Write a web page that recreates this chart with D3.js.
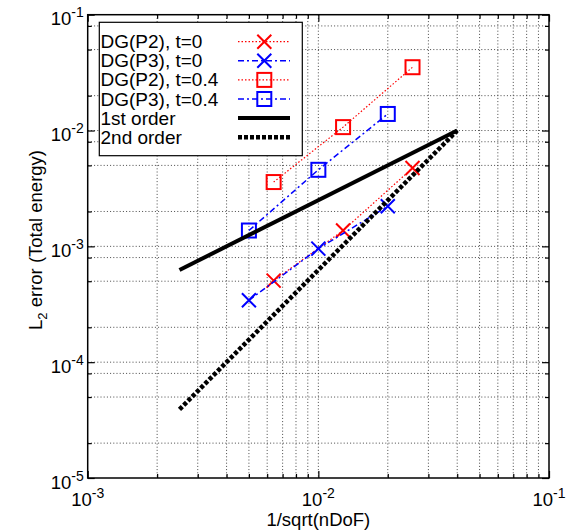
<!DOCTYPE html>
<html><head><meta charset="utf-8">
<script src="https://cdn.jsdelivr.net/npm/d3@7"></script>
<style>html,body{margin:0;padding:0;background:#fff;}svg{display:block;font-family:"Liberation Sans",Arial,Helvetica,sans-serif;}</style>
</head><body>
<svg id="chart" width="572" height="531"></svg>
<script>
// ---- data ----
const xMajor = [1e-3, 1e-2, 1e-1];
const xMajorExp = ["-3", "-2", "-1"];
const yMajor = [1e-5, 1e-4, 1e-3, 1e-2, 1e-1];
const yMajorExp = ["-5", "-4", "-3", "-2", "-1"];
const xMinorMult = [2, 3, 4, 5, 6, 7, 8, 9];
const yMinorMult = [2, 5, 8];

const p2x = [0.0064, 0.0128, 0.0256];
const p3x = [0.005, 0.01, 0.02];
const p2t0 = [5.06e-4, 1.37e-3, 4.74e-3];
const p3t0 = [3.42e-4, 9.55e-4, 2.22e-3];
const p2t04 = [3.59e-3, 1.07e-2, 3.52e-2];
const p3t04 = [1.37e-3, 4.58e-3, 1.39e-2];
const orderX = [0.0025, 0.04];
const order1 = [6.25e-4, 1e-2];
const order2 = [3.91e-5, 1e-2];

const legendLabels = ["DG(P2), t=0", "DG(P3), t=0", "DG(P2), t=0.4", "DG(P3), t=0.4", "1st order", "2nd order"];
const xTitle = "1/sqrt(nDoF)";

// ---- layout ----
const L = 87.7, R = 549, T = 14.7, B = 478;
const svg = d3.select("#chart");
const x = d3.scaleLog().domain([1e-3, 1e-1]).range([L, R]);
const y = d3.scaleLog().domain([1e-5, 1e-1]).range([B, T]);

function minors(major, mult) {
  const out = [];
  major.slice(0, -1).forEach(m => mult.forEach(k => out.push(m * k)));
  return out;
}
const xMinor = minors(xMajor, xMinorMult);
const yMinor = minors(yMajor, yMinorMult);

// grid
const grid = svg.append("g").attr("stroke", "#333").attr("stroke-width", 0.9).attr("stroke-dasharray", "1,2.2");
xMinor.concat(xMajor.slice(1, -1)).forEach(v => {
  grid.append("line").attr("x1", x(v)).attr("x2", x(v)).attr("y1", T).attr("y2", B);
});
yMinor.concat(yMajor.slice(1, -1)).forEach(v => {
  grid.append("line").attr("x1", L).attr("x2", R).attr("y1", y(v)).attr("y2", y(v));
});

// axes ticks (inward, mirrored)
function styleAxis(g) { g.select(".domain").remove(); g.selectAll("line").attr("stroke", "#000").attr("stroke-width", 1.2); g.selectAll("text").remove(); }
[[d3.axisBottom, B], [d3.axisTop, T]].forEach(([ax, pos]) => {
  svg.append("g").attr("transform", `translate(0,${pos})`).call(ax(x).tickValues(xMajor).tickSize(-7).tickFormat("")).call(styleAxis);
  svg.append("g").attr("transform", `translate(0,${pos})`).call(ax(x).tickValues(xMinor).tickSize(-4).tickFormat("")).call(styleAxis);
});
[[d3.axisLeft, L], [d3.axisRight, R]].forEach(([ax, pos]) => {
  svg.append("g").attr("transform", `translate(${pos},0)`).call(ax(y).tickValues(yMajor).tickSize(-7).tickFormat("")).call(styleAxis);
  svg.append("g").attr("transform", `translate(${pos},0)`).call(ax(y).tickValues(yMinor).tickSize(-4).tickFormat("")).call(styleAxis);
});

// tick labels
function sup(t, exp) {
  t.append("tspan").text("10");
  t.append("tspan").attr("dy", -8).attr("font-size", 14).text(exp);
}
xMajor.forEach((v, i) => {
  const t = svg.append("text").attr("x", x(v)).attr("y", B + 28).attr("text-anchor", "middle").attr("font-size", 18.5);
  sup(t, xMajorExp[i]);
});
yMajor.forEach((v, i) => {
  const t = svg.append("text").attr("x", L - 4).attr("y", y(v) + 10.5).attr("text-anchor", "end").attr("font-size", 18.5);
  sup(t, yMajorExp[i]);
});

// titles
svg.append("text").attr("x", (L + R) / 2).attr("y", 526).attr("text-anchor", "middle").attr("font-size", 18.5).text(xTitle);
const yt = svg.append("text").attr("transform", `translate(42,240) rotate(-90)`).attr("text-anchor", "middle").attr("font-size", 18.5);
yt.append("tspan").text("L");
yt.append("tspan").attr("font-size", 13).attr("dy", 5).text("2");
yt.append("tspan").attr("dy", -5).text(" error (Total energy)");

// series
const styles = [
  {xs: p2x, ys: p2t0, color: "#ff0000", dash: "1.5,2", w: 1.2, marker: "x"},
  {xs: p3x, ys: p3t0, color: "#0000ff", dash: "6,3,2,3", w: 1.5, marker: "x"},
  {xs: p2x, ys: p2t04, color: "#ff0000", dash: "1.5,2", w: 1.2, marker: "sq"},
  {xs: p3x, ys: p3t04, color: "#0000ff", dash: "6,3,2,3", w: 1.5, marker: "sq"},
  {xs: orderX, ys: order1, color: "#000", dash: null, w: 4, marker: null},
  {xs: orderX, ys: order2, color: "#000", dash: "4,2", w: 4.5, marker: null}
];
const line = d3.line();
function drawMarker(g, type, cx, cy, color) {
  if (type === "x") {
    g.append("path").attr("d", `M${cx - 7},${cy - 7}L${cx + 7},${cy + 7}M${cx - 7},${cy + 7}L${cx + 7},${cy - 7}`)
      .attr("stroke", color).attr("stroke-width", 2).attr("fill", "none");
  } else if (type === "sq") {
    g.append("rect").attr("x", cx - 7).attr("y", cy - 7).attr("width", 14).attr("height", 14)
      .attr("stroke", color).attr("stroke-width", 2).attr("fill", "none");
  }
}
const plot = svg.append("g");
styles.forEach(s => {
  const pts = s.xs.map((v, i) => [x(v), y(s.ys[i])]);
  plot.append("path").attr("d", line(pts)).attr("fill", "none").attr("stroke", s.color)
    .attr("stroke-width", s.w).attr("stroke-dasharray", s.dash);
  if (s.marker) pts.forEach(p => drawMarker(plot, s.marker, p[0], p[1], s.color));
});

// border
svg.append("rect").attr("x", L).attr("y", T).attr("width", R - L).attr("height", B - T)
  .attr("fill", "none").attr("stroke", "#000").attr("stroke-width", 1.5);

// legend
const lg = svg.append("g");
lg.append("rect").attr("x", 99.3).attr("y", 22.3).attr("width", 203).attr("height", 133.4)
  .attr("fill", "#fff").attr("stroke", "#000").attr("stroke-width", 1.2);
legendLabels.forEach((lab, i) => {
  const cy = 41.7 + i * 19.1;
  const s = styles[i];
  lg.append("text").attr("x", 100.5).attr("y", cy + 6.5).attr("font-size", 19).text(lab);
  lg.append("line").attr("x1", 238).attr("x2", 290).attr("y1", cy).attr("y2", cy)
    .attr("stroke", s.color).attr("stroke-width", s.w).attr("stroke-dasharray", s.dash);
  if (s.marker) drawMarker(lg, s.marker, 264.3, cy, s.color);
});
</script>
</body></html>
